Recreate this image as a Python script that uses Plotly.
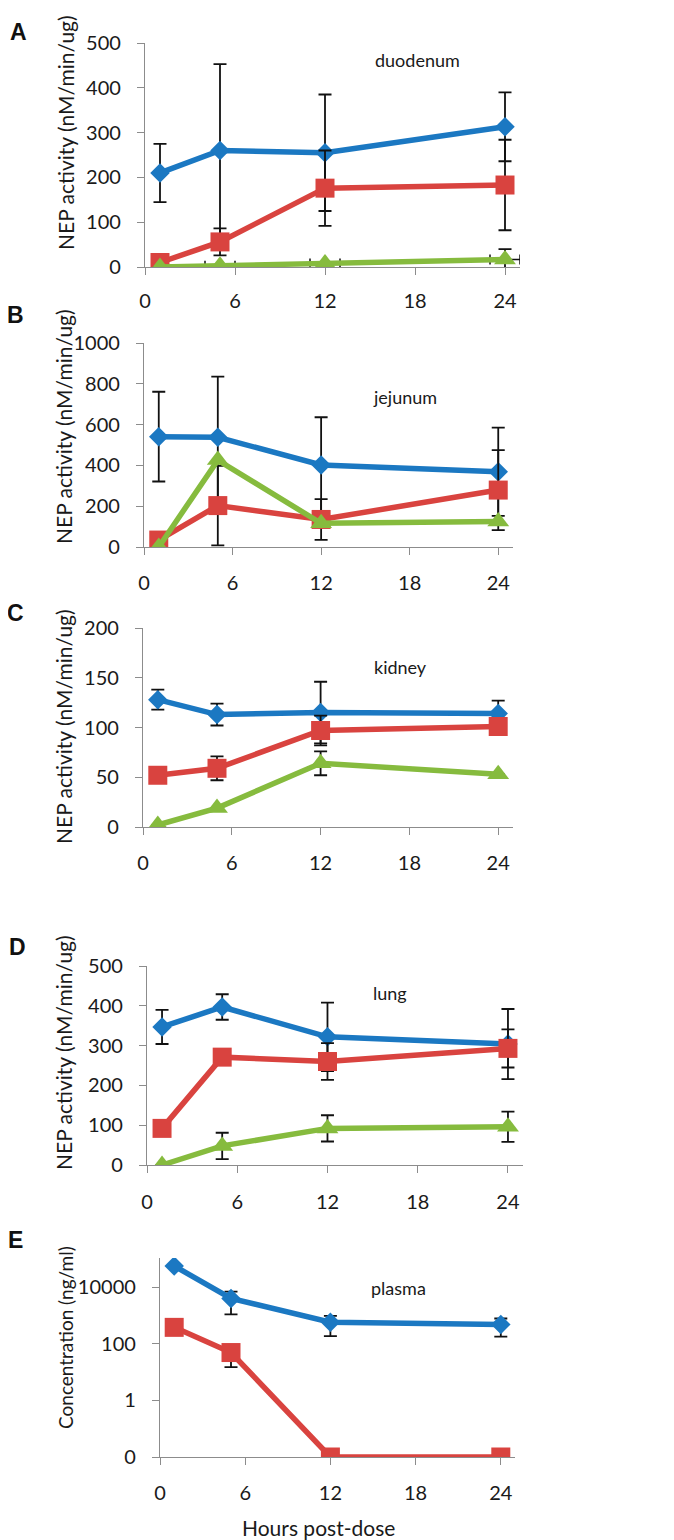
import plotly.graph_objects as go

hours = [1, 5, 12, 24]
x_ticks = [0, 6, 12, 18, 24]

duo_blue = [210, 260, 255, 313]
duo_blue_err = [65, 193, 130, 77]
duo_red = [10, 56, 176, 183]
duo_red_err = [0, 30, 84, 101]
duo_green = [0, 3, 8, 17]
duo_green_err = [0, 0, 0, 23]
duo_green_xerr = [0, 1, 1, 1]

jej_blue = [541, 538, 402, 369]
jej_blue_err = [220, 297, 234, 216]
jej_red = [34, 203, 135, 279]
jej_red_err = [0, 195, 100, 196]
jej_green = [0, 426, 116, 125]

kid_blue = [128, 113, 115, 114]
kid_blue_err = [10, 11, 31, 13]
kid_red = [52, 59, 97, 101]
kid_red_err = [0, 12, 15, 0]
kid_green = [2, 19, 64, 53]
kid_green_err = [0, 0, 12, 0]

lung_blue = [347, 397, 322, 304]
lung_blue_err = [43, 32, 86, 88]
lung_red = [92, 271, 260, 293]
lung_red_err = [0, 0, 46, 48]
lung_green = [0, 48, 92, 96]
lung_green_err = [0, 33, 33, 38]

plasma_blue = [56000, 4000, 575, 480]
plasma_blue_err = [0, 2900, 390, 300]
plasma_red = [380, 49, 0.01, 0.01]
plasma_red_err = [0, 34, 0, 0]

plasma_tickvals = [0.01, 1, 100, 10000]
plasma_ticktext = ["0", "1", "100", "10000"]

panel_letters = ["A", "B", "C", "D", "E"]
panel_names = ["duodenum", "jejunum", "kidney", "lung", "plasma"]

BLUE = "#1b78c2"
RED = "#d9433f"
GREEN = "#86bb3e"

W, H = 674, 1540
OFF = 8  # page body margin
FONT = "Lato"


def px(x):
    return (x - OFF) / W


def py(y):
    return 1 - (y - OFF) / H


# pixel geometry (screen pixels): (x_left, x_right, y_top, y_bottom)
geom = [
    (145, 520, 43, 267),
    (144, 513, 343, 547),
    (143, 513, 628, 827),
    (147, 523, 966, 1165),
    (160, 515, 1258, 1457),
]
yranges = [[0, 500], [0, 1000], [0, 200], [0, 500], [-2, 5.03]]
ydticks = [100, 200, 50, 100, None]
xstandoffs = [9, 11, 11, 12, 11]

fig = go.Figure()


def add(i, y, color, symbol, size, err=None, xerr=None):
    suffix = "" if i == 0 else str(i + 1)
    tr = dict(
        x=hours, y=y, mode="lines+markers",
        line=dict(color=color, width=5.5),
        marker=dict(color=color, symbol=symbol, size=size),
        xaxis="x" + suffix, yaxis="y" + suffix, showlegend=False,
    )
    if err is not None:
        tr["error_y"] = dict(type="data", array=err, visible=True,
                             color="#111111", thickness=1.8, width=6.5)
    if xerr is not None:
        tr["error_x"] = dict(type="data", array=xerr, visible=True,
                             color="#111111", thickness=1.5, width=5)
    fig.add_trace(go.Scatter(**tr))


DS, SS, TS = 15, 19, 19
# A
add(0, duo_blue, BLUE, "diamond", DS, duo_blue_err)
add(0, duo_red, RED, "square", SS, duo_red_err)
add(0, duo_green, GREEN, "triangle-up", TS, duo_green_err, duo_green_xerr)
# B
add(1, jej_blue, BLUE, "diamond", DS, jej_blue_err)
add(1, jej_red, RED, "square", SS, jej_red_err)
add(1, jej_green, GREEN, "triangle-up", TS)
# C
add(2, kid_blue, BLUE, "diamond", DS, kid_blue_err)
add(2, kid_red, RED, "square", SS, kid_red_err)
add(2, kid_green, GREEN, "triangle-up", TS, kid_green_err)
# D
add(3, lung_blue, BLUE, "diamond", DS, lung_blue_err)
add(3, lung_red, RED, "square", SS, lung_red_err)
add(3, lung_green, GREEN, "triangle-up", TS, lung_green_err)
# E
add(4, plasma_blue, BLUE, "diamond", DS, plasma_blue_err)
add(4, plasma_red, RED, "square", SS, plasma_red_err)

layout = dict(
    width=W, height=H, autosize=False,
    margin=dict(l=0, r=0, t=0, b=0, pad=0),
    paper_bgcolor="white", plot_bgcolor="white",
    font=dict(family=FONT, color="#1a1a1a"),
)

for i, (xl, xr, yt, yb) in enumerate(geom):
    suffix = "" if i == 0 else str(i + 1)
    xa = dict(
        domain=[px(xl), px(xr)], range=[0, 25],
        tickvals=x_ticks, ticks="outside", ticklen=7, tickcolor="#8c8c8c",
        showline=True, linecolor="#8c8c8c", linewidth=1.3,
        showgrid=False, zeroline=False, automargin=False,
        tickfont=dict(size=20, family=FONT, color="#1a1a1a"),
        ticklabelstandoff=xstandoffs[i],
        anchor="y" + suffix, fixedrange=True,
    )
    ya = dict(
        domain=[py(yb), py(yt)], range=yranges[i],
        ticks="outside", ticklen=7, tickcolor="#8c8c8c",
        showline=True, linecolor="#8c8c8c", linewidth=1.3,
        showgrid=False, zeroline=False, automargin=False,
        tickfont=dict(size=20, family=FONT, color="#1a1a1a"),
        ticklabelstandoff=12,
        anchor="x" + suffix, fixedrange=True,
    )
    if i < 4:
        ya["dtick"] = ydticks[i]
        ya["tick0"] = 0
    else:
        ya["type"] = "log"
        ya["tickvals"] = plasma_tickvals
        ya["ticktext"] = plasma_ticktext
    layout["xaxis" + suffix] = xa
    layout["yaxis" + suffix] = ya

fig.update_layout(**layout)

letter_pos = [(18, 32), (15, 315), (15, 613), (17, 947), (15, 1240)]
name_pos = [(417, 60), (405, 397), (400, 667), (390, 993), (398, 1288)]
ytitle_pos = [(65, 133), (63, 427), (63, 727), (63, 1053), (65, 1338)]
ytitles = ["NEP activity (nM/min/ug)"] * 4 + ["Concentration (ng/ml)"]
ytitle_sizes = [21, 21, 21, 21, 19]

for i in range(5):
    lx, ly = letter_pos[i]
    fig.add_annotation(x=px(lx), y=py(ly), xref="paper", yref="paper",
                       text="<b>" + panel_letters[i] + "</b>", showarrow=False,
                       font=dict(size=23, family="Liberation Sans", color="#111"),
                       xanchor="center", yanchor="middle")
    nx, ny = name_pos[i]
    fig.add_annotation(x=px(nx), y=py(ny), xref="paper", yref="paper",
                       text=panel_names[i], showarrow=False,
                       font=dict(size=18, family=FONT, color="#1a1a1a"),
                       xanchor="center", yanchor="middle")
    tx, ty = ytitle_pos[i]
    fig.add_annotation(x=px(tx), y=py(ty), xref="paper", yref="paper",
                       text=ytitles[i], showarrow=False, textangle=-90,
                       font=dict(size=ytitle_sizes[i], family=FONT, color="#1a1a1a"),
                       xanchor="center", yanchor="middle")

fig.add_annotation(x=px(318), y=py(1527), xref="paper", yref="paper",
                   text="Hours post-dose", showarrow=False,
                   font=dict(size=21, family=FONT, color="#1a1a1a"),
                   xanchor="center", yanchor="middle")

fig.write_html("out.html")
